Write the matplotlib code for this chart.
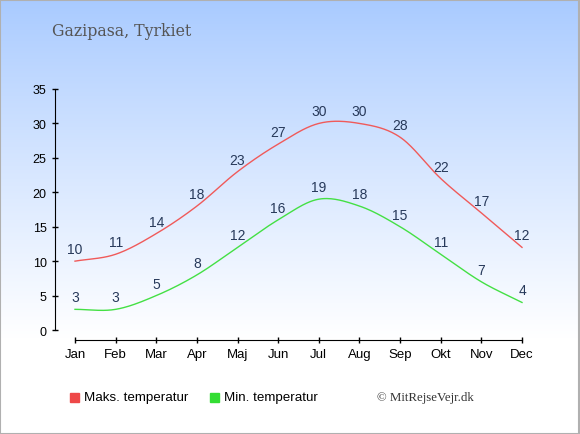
import numpy as np
import matplotlib.pyplot as plt
from matplotlib.patches import Rectangle

months = ["Jan", "Feb", "Mar", "Apr", "Maj", "Jun", "Jul", "Aug", "Sep", "Okt", "Nov", "Dec"]
max_temp = [10, 11, 14, 18, 23, 27, 30, 30, 28, 22, 17, 12]
min_temp = [3, 3, 5, 8, 12, 16, 19, 18, 15, 11, 7, 4]

W, H = 580, 435


def catmull_rom(y, n=30):
    # smooth curve through the points (Catmull-Rom, like the original)
    y = np.asarray(y, dtype=float)
    m = np.zeros_like(y)
    m[1:-1] = (y[2:] - y[:-2]) / 2
    m[0] = y[1] - y[0]
    m[-1] = y[-1] - y[-2]
    xs, ys = [], []
    for i in range(len(y) - 1):
        t = np.linspace(0, 1, n, endpoint=False)
        h00 = 2 * t**3 - 3 * t**2 + 1
        h10 = t**3 - 2 * t**2 + t
        h01 = -2 * t**3 + 3 * t**2
        h11 = t**3 - t**2
        xs.append(i + t)
        ys.append(h00 * y[i] + h10 * m[i] + h01 * y[i + 1] + h11 * m[i + 1])
    xs.append([len(y) - 1])
    ys.append([y[-1]])
    return np.concatenate(xs), np.concatenate(ys)


fig = plt.figure(figsize=(W / 100, H / 100), dpi=100)

# background gradient
bg = fig.add_axes([0, 0, 1, 1], zorder=-10)
g = np.linspace(0, 1, 256)
t = np.clip(g / 0.78, 0, 1) ** 0.9
top = np.array([168, 202, 255]) / 255
col = top[None, :] * (1 - t[:, None]) + t[:, None]
bg.imshow(col[:, None, :], aspect="auto", extent=[0, 1, 0, 1])
bg.add_patch(Rectangle((0.0008, 0.001), 0.998, 0.997, fill=False, ec="#b0b0b0", lw=1.5,
                       transform=bg.transAxes))
bg.set_axis_off()

ax = fig.add_axes([55 / W, 94 / H, (542 - 55) / W, (341 - 90) / H])
ax.patch.set_alpha(0)
ax.set_xlim(-0.492, 11.492)
ax.set_ylim(-1.452, 35)

x = np.arange(len(months))
xs, ys = catmull_rom(max_temp)
ax.plot(xs, ys, color="#f05a5a", lw=1)
xs, ys = catmull_rom(min_temp)
ax.plot(xs, ys, color="#44e044", lw=1)

for i, v in enumerate(max_temp):
    ax.annotate(str(v), (i, v), xytext=(0, 12), textcoords="offset pixels",
                ha="center", va="center", fontsize=10, color="#27395a", family="Liberation Sans")
for i, v in enumerate(min_temp):
    ax.annotate(str(v), (i, v), xytext=(0, 12), textcoords="offset pixels",
                ha="center", va="center", fontsize=10, color="#27395a", family="Liberation Sans")

for s in ["top", "right"]:
    ax.spines[s].set_visible(False)
ax.spines["left"].set_bounds(0, 35)
ax.spines["bottom"].set_bounds(0, 11)
ax.set_yticks(range(0, 36, 5))
ax.set_xticks(x)
ax.set_xticklabels(months)
ax.tick_params(direction="inout", length=5, width=1, labelsize=9, colors="black")
ax.tick_params(axis="x", labelsize=9.5)
for lab in ax.get_xticklabels() + ax.get_yticklabels():
    lab.set_family("Liberation Sans")

fig.text(52 / W, 1 - 32 / H, "Gazipasa, Tyrkiet", fontsize=11.3, color="#555555",
         family="DejaVu Serif", va="center", ha="left")

# legend
ly = 1 - 398 / H
fig.patches.append(Rectangle((70 / W, ly - 4.5 / H), 9 / W, 9 / H, color="#ee4848",
                             transform=fig.transFigure, figure=fig))
fig.text(84 / W, ly, "Maks. temperatur", fontsize=9.6, va="center", family="Liberation Sans")
fig.patches.append(Rectangle((210 / W, ly - 4.5 / H), 9 / W, 9 / H, color="#33dd33",
                             transform=fig.transFigure, figure=fig))
fig.text(224 / W, ly, "Min. temperatur", fontsize=9.6, va="center", family="Liberation Sans")
fig.text(377 / W, ly, "© MitRejseVejr.dk", fontsize=9.3, va="center", family="Liberation Serif",
         color="#333333")

fig.savefig("out.png", dpi=100)
